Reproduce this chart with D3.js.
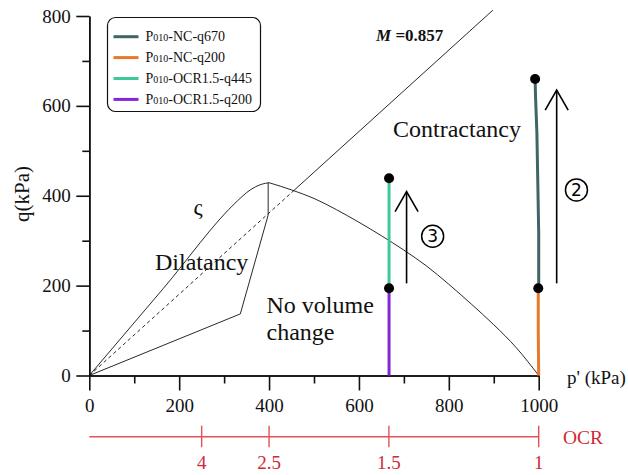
<!DOCTYPE html>
<html>
<head>
<meta charset="utf-8">
<script src="https://cdn.jsdelivr.net/npm/d3@7"></script>
<style>
  html, body { margin: 0; padding: 0; background: #fff; }
  svg { display: block; }
</style>
</head>
<body>
<script>
// ---------------- data ----------------
const xMajorTicks = [0, 200, 400, 600, 800, 1000];
const xMinorTicks = [100, 300, 500, 700, 900];
const yMajorTicks = [0, 200, 400, 600, 800];
const yMinorTicks = [100, 300, 500, 700];
const ocrTicks = [4, 2.5, 1.5, 1];
const ocrLabels = ["4", "2.5", "1.5", "1"];

const seriesNames = ["P010-NC-q670", "P010-NC-q200", "P010-OCR1.5-q445", "P010-OCR1.5-q200"];
const seriesColors = ["#3e6666", "#e8782a", "#3fc79c", "#8326d9"];
const ncQ670 = [[1000, 194], [1000, 317], [998, 430], [996, 539], [993, 620], [992, 660]];
const ncQ200 = [[1000, 0], [999, 100], [999, 194]];
const ocrQ445 = [[667, 194], [667, 439]];
const ocrQ200 = [[667, 0], [667, 194]];
const endDots = [[667, 194], [667, 439], [999, 194], [992, 660]];

const cslDashed = [[0, 0], [450, 407]];
const cslSolid = [[450, 407], [898, 813]];
const yieldUpperLeft = [[0, 0], [165, 194], [330, 389], [350, 407], [370, 420], [385, 426], [400, 429]];
const yieldRight = [[400, 429], [450, 413], [500, 394], [550, 369], [600, 341], [650, 311], [700, 279],
                    [750, 244], [800, 203], [850, 159], [900, 113], [950, 62], [1000, 0]];
const dilatancyLower = [[0, 0], [336, 137], [398, 357]];
const peakVertical = [[398, 357], [398, 429]];

const arrows = [{ p: 706, q0: 205, q1: 409 }, { p: 1040, q0: 205, q1: 635 }];
const circledNums = [{ p: 764, q: 310, t: "3" }, { p: 1084, q: 413, t: "2" }];

// ---------------- setup ----------------
const SERIF = '"Liberation Serif", "Tinos", "Times New Roman", "DejaVu Serif", Times, serif';
const W = 628, H = 475;
const svg = d3.select("body").append("svg").attr("width", W).attr("height", H)
  .style("font-family", SERIF);

const x = d3.scaleLinear().domain([0, 1000]).range([89.3, 538.7]);
const y = d3.scaleLinear().domain([0, 800]).range([375.5, 16]);

const line = d3.line().x(d => x(d[0])).y(d => y(d[1]));
const smooth = d3.line().x(d => x(d[0])).y(d => y(d[1])).curve(d3.curveMonotoneX);

// ---------------- reference curves ----------------
const g = svg.append("g").attr("fill", "none").attr("stroke", "#111").attr("stroke-width", 0.9);
g.append("path").attr("d", line(cslDashed)).attr("stroke-dasharray", "3.5,3");
g.append("path").attr("d", line(cslSolid));
g.append("path").attr("d", smooth(yieldUpperLeft));
g.append("path").attr("d", smooth(yieldRight));
g.append("path").attr("d", line(dilatancyLower));
g.append("path").attr("d", line(peakVertical));

// ---------------- axes ----------------
const axisFont = 19;
const yAxisMajor = d3.axisLeft(y).tickValues(yMajorTicks).tickSize(13).tickSizeOuter(0).tickPadding(5.5).tickFormat(d3.format("d"));
const yAxisMinor = d3.axisLeft(y).tickValues(yMinorTicks).tickSize(7).tickSizeOuter(0).tickFormat("");
const xAxisMajor = d3.axisBottom(x).tickValues(xMajorTicks).tickSize(15).tickSizeOuter(0).tickPadding(8).tickFormat(d3.format("d"));
const xAxisMinor = d3.axisBottom(x).tickValues(xMinorTicks).tickSize(8).tickSizeOuter(0).tickFormat("");

function styleAxis(sel) {
  sel.attr("font-family", SERIF).attr("font-size", axisFont);
  sel.selectAll("path, line").attr("stroke", "#111").attr("stroke-width", 1.6);
  sel.selectAll("text").attr("fill", "#111");
}
svg.append("g").attr("transform", `translate(${x(0)},0)`).call(yAxisMinor).call(styleAxis);
svg.append("g").attr("transform", `translate(${x(0)},0)`).call(yAxisMajor).call(styleAxis);
svg.append("g").attr("transform", `translate(0,${y(0)})`).call(xAxisMinor).call(styleAxis);
svg.append("g").attr("transform", `translate(0,${y(0)})`).call(xAxisMajor).call(styleAxis);

svg.append("text").attr("transform", `translate(29,194) rotate(-90)`)
  .attr("text-anchor", "middle").attr("font-size", 21).attr("fill", "#111").text("q(kPa)");
svg.append("text").attr("x", 567).attr("y", 384).attr("font-size", 19).attr("fill", "#111").text("p' (kPa)");

// ---------------- OCR axis ----------------
const ocrY = 436.7;
const ocrColor = "#e0525a";
svg.append("line").attr("x1", x(0)).attr("x2", x(1000)).attr("y1", ocrY).attr("y2", ocrY)
  .attr("stroke", ocrColor).attr("stroke-width", 1.4);
svg.selectAll(".ocrtick").data(ocrTicks).enter().append("line")
  .attr("x1", d => x(1000 / d)).attr("x2", d => x(1000 / d))
  .attr("y1", ocrY - 11).attr("y2", ocrY + 10.5)
  .attr("stroke", ocrColor).attr("stroke-width", 1.4);
svg.selectAll(".ocrlab").data(ocrTicks).enter().append("text")
  .attr("x", d => x(1000 / d)).attr("y", 468.5).attr("text-anchor", "middle")
  .attr("font-size", 19).attr("fill", "#d02a36").text((d, i) => ocrLabels[i]);
svg.append("text").attr("x", 563).attr("y", 444).attr("font-size", 19.5).attr("fill", "#d02a36").text("OCR");

// ---------------- series ----------------
const seriesData = [ncQ670, ncQ200, ocrQ445, ocrQ200];
seriesData.forEach((d, i) => {
  svg.append("path").attr("d", line(d)).attr("fill", "none")
    .attr("stroke", seriesColors[i]).attr("stroke-width", 3).attr("stroke-linecap", "butt");
});
svg.selectAll(".dot").data(endDots).enter().append("circle")
  .attr("cx", d => x(d[0])).attr("cy", d => y(d[1])).attr("r", 5).attr("fill", "#000");

// ---------------- arrows ----------------
arrows.forEach(a => {
  const xa = x(a.p), yt = y(a.q1), yb = y(a.q0);
  svg.append("line").attr("x1", xa).attr("x2", xa).attr("y1", yt).attr("y2", yb)
    .attr("stroke", "#000").attr("stroke-width", 1.6);
  svg.append("path").attr("d", `M${xa - 11.5},${yt + 20} L${xa},${yt} L${xa + 11.5},${yt + 20}`)
    .attr("fill", "none").attr("stroke", "#000").attr("stroke-width", 1.6);
});
circledNums.forEach(c => {
  const cx = x(c.p), cy = y(c.q);
  svg.append("circle").attr("cx", cx).attr("cy", cy).attr("r", 11).attr("fill", "none")
    .attr("stroke", "#000").attr("stroke-width", 1.5);
  svg.append("text").attr("x", cx).attr("y", cy + 6).attr("text-anchor", "middle")
    .attr("font-size", 17).attr("font-family", '"DejaVu Sans", Arial, sans-serif').attr("fill", "#000").text(c.t);
});

// ---------------- annotations ----------------
const ann = svg.append("g").attr("fill", "#111");
ann.append("text").attr("x", 376).attr("y", 40.5).attr("font-size", 17).attr("font-weight", "bold")
  .call(t => {
    t.append("tspan").attr("font-style", "italic").text("M");
    t.append("tspan").text(" =0.857");
  });
ann.append("text").attr("x", 198).attr("y", 215).attr("text-anchor", "middle").attr("font-size", 23).text("ς");
ann.append("text").attr("x", 155).attr("y", 270).attr("font-size", 24).text("Dilatancy");
ann.append("text").attr("x", 266.5).attr("y", 313).attr("font-size", 24).text("No volume");
ann.append("text").attr("x", 266.5).attr("y", 340).attr("font-size", 24).text("change");
ann.append("text").attr("x", 393).attr("y", 137).attr("font-size", 24).text("Contractancy");

// ---------------- legend ----------------
const lg = svg.append("g");
lg.append("rect").attr("x", 107.5).attr("y", 17.5).attr("width", 153).attr("height", 94).attr("rx", 8)
  .attr("fill", "#fff").attr("stroke", "#111").attr("stroke-width", 1.2);
seriesNames.forEach((name, i) => {
  const ry = 36.7 + i * 20.9;
  lg.append("line").attr("x1", 113.5).attr("x2", 138.5).attr("y1", ry).attr("y2", ry)
    .attr("stroke", seriesColors[i]).attr("stroke-width", 3);
  const t = lg.append("text").attr("x", 145.5).attr("y", ry + 4.5).attr("font-size", 14).attr("fill", "#111");
  t.append("tspan").text(name.slice(0, 1));
  t.append("tspan").attr("font-size", 10).text(name.slice(1, 4));
  t.append("tspan").text(name.slice(4));
});
</script>
</body>
</html>
